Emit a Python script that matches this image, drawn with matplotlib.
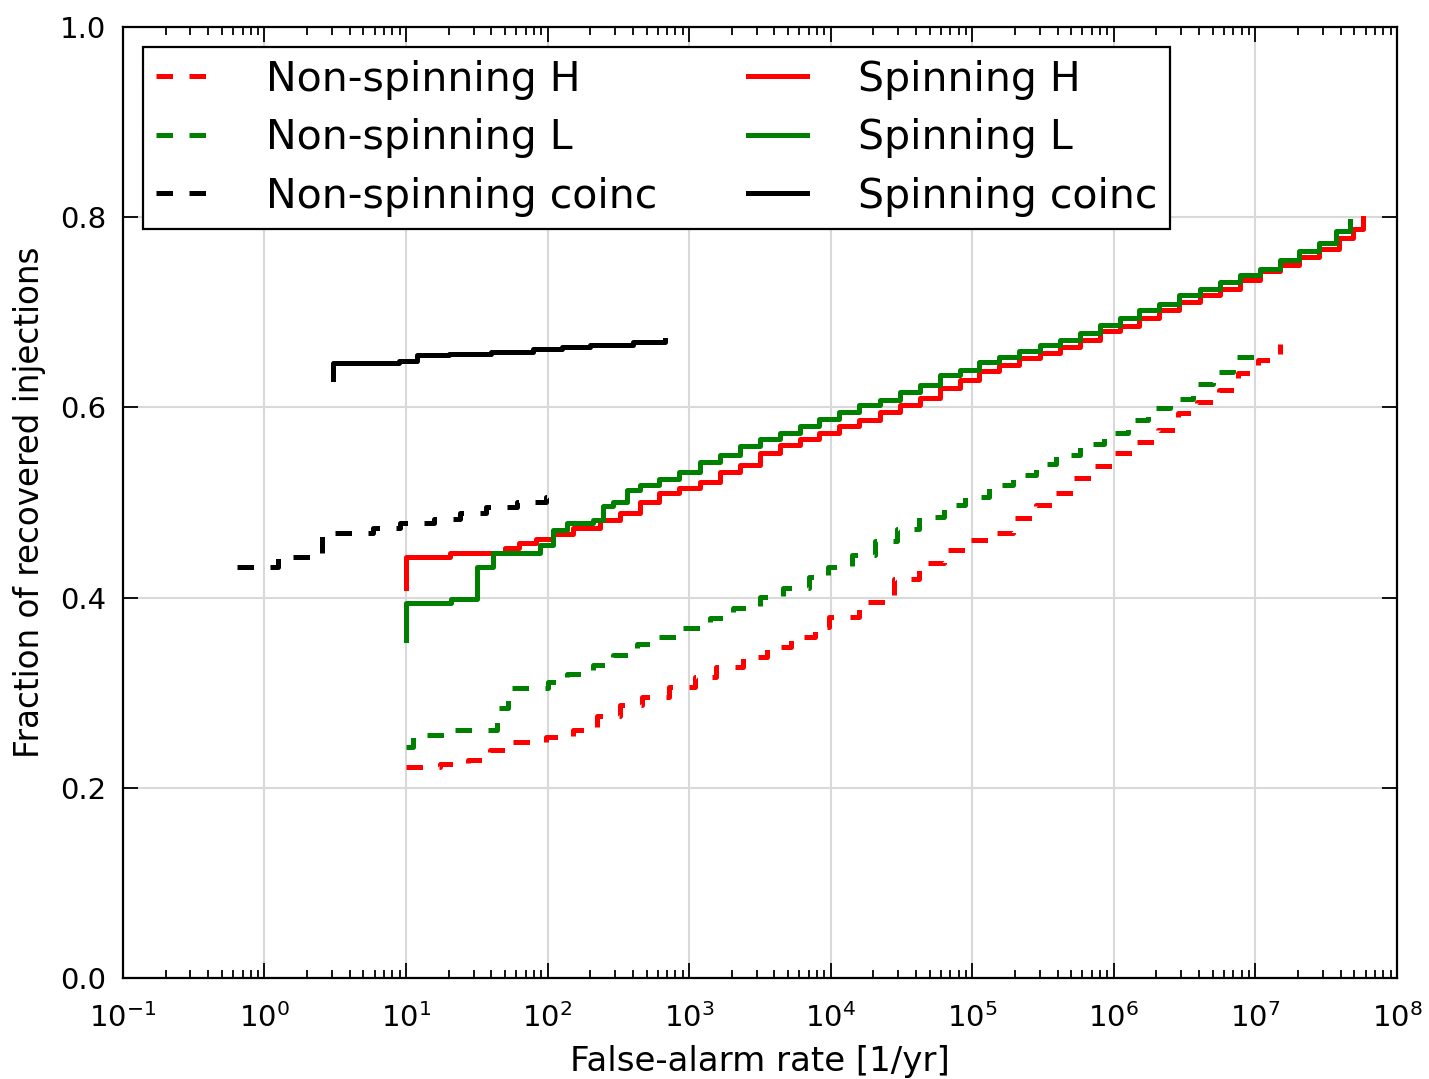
import numpy as np
import matplotlib
matplotlib.use("Agg")
from matplotlib import pyplot as plt
from matplotlib.ticker import FixedLocator, LogLocator, NullFormatter


# cumulative recovered fraction vs. false-alarm rate (steps)
far_spin_h = [10, 10, 20.4, 50, 63, 83, 110, 151, 234, 324,
              447, 617, 851, 1190, 1640, 2280, 3160, 4370, 6030, 8320,
              1.15e4, 1.58e4, 2.24e4, 3.09e4, 4.27e4, 5.89e4, 8.13e4, 1.12e5, 1.55e5, 2.14e5,
              3.02e5, 4.17e5, 5.75e5, 7.94e5, 1.10e6, 1.51e6, 2.09e6, 2.88e6, 4.07e6, 5.62e6,
              7.76e6, 1.07e7, 1.48e7, 2.04e7, 2.82e7, 3.89e7, 4.90e7, 5.75e7]
frac_spin_h = [0.410, 0.443, 0.447, 0.452, 0.457, 0.462, 0.467, 0.473, 0.482, 0.489,
               0.501, 0.510, 0.515, 0.522, 0.532, 0.539, 0.552, 0.560, 0.567, 0.573,
               0.580, 0.587, 0.595, 0.602, 0.610, 0.620, 0.629, 0.638, 0.645, 0.652,
               0.657, 0.664, 0.671, 0.680, 0.686, 0.694, 0.702, 0.711, 0.718, 0.725,
               0.734, 0.743, 0.750, 0.758, 0.767, 0.778, 0.788, 0.799]

far_spin_l = [10, 10, 20.9, 31.6, 41, 88, 110, 138, 209, 245,
              288, 363, 447, 617, 851, 1190, 1640, 2280, 3160, 4370,
              6030, 8320, 1.15e4, 1.58e4, 2.24e4, 3.09e4, 4.27e4, 5.89e4, 8.13e4, 1.12e5,
              1.55e5, 2.14e5, 3.02e5, 4.17e5, 5.75e5, 7.94e5, 1.10e6, 1.51e6, 2.09e6, 2.88e6,
              4.07e6, 5.62e6, 7.76e6, 1.07e7, 1.48e7, 2.04e7, 2.82e7, 3.72e7, 4.68e7]
frac_spin_l = [0.355, 0.394, 0.399, 0.432, 0.447, 0.455, 0.471, 0.478, 0.482, 0.496,
               0.501, 0.513, 0.518, 0.525, 0.532, 0.543, 0.550, 0.559, 0.567, 0.573,
               0.580, 0.588, 0.595, 0.603, 0.608, 0.616, 0.624, 0.634, 0.639, 0.648,
               0.653, 0.659, 0.666, 0.671, 0.678, 0.687, 0.694, 0.702, 0.709, 0.718,
               0.725, 0.732, 0.739, 0.746, 0.755, 0.764, 0.773, 0.785, 0.796]

far_nospin_h = [10, 17.4, 27.5, 38.9, 56.2, 97.7, 151, 224, 324, 468, 724, 1.1e3,
                1.55e3, 2.4e3, 3.55e3, 5.25e3, 7.76e3, 9.77e3, 1.58e4, 2.82e4,
                4.17e4, 6.31e4, 8.91e4, 1.32e5, 1.95e5, 2.82e5, 3.72e5, 5.13e5,
                7.08e5, 1.0e6, 1.41e6, 2.04e6, 2.82e6, 3.89e6, 5.5e6, 7.59e6,
                1.05e7, 1.48e7]
frac_nospin_h = [0.222, 0.225, 0.229, 0.240, 0.248, 0.253, 0.261, 0.275, 0.287, 0.296,
                 0.306, 0.317, 0.327, 0.338, 0.348, 0.359, 0.369, 0.380, 0.395, 0.420,
                 0.436, 0.450, 0.461, 0.468, 0.484, 0.497, 0.510, 0.526, 0.538, 0.552,
                 0.564, 0.576, 0.594, 0.606, 0.618, 0.636, 0.650, 0.667]

far_nospin_l = [10, 11.2, 20.9, 43.7, 52.5, 100, 138, 209, 288, 427, 589, 891, 1.41e3,
                2.04e3, 3.16e3, 4.57e3, 7.08e3, 9.55e3, 1.41e4, 2.04e4, 2.95e4,
                4.17e4, 6.31e4, 8.91e4, 1.32e5, 1.95e5, 2.82e5, 3.89e5, 5.75e5,
                8.51e5, 1.26e6, 1.74e6, 2.51e6, 3.63e6, 5.01e6, 6.92e6, 1.0e7]
frac_nospin_l = [0.243, 0.255, 0.261, 0.284, 0.305, 0.311, 0.320, 0.329, 0.340, 0.351,
                 0.359, 0.368, 0.379, 0.389, 0.401, 0.410, 0.422, 0.432, 0.445, 0.459,
                 0.472, 0.485, 0.497, 0.506, 0.518, 0.529, 0.540, 0.550, 0.562, 0.573,
                 0.587, 0.599, 0.609, 0.625, 0.637, 0.653, 0.669]

far_spin_coinc = [3.04, 3.04, 8.9, 12, 20, 40, 79, 126, 200, 398, 676]
frac_spin_coinc = [0.630, 0.647, 0.649, 0.655, 0.656, 0.658, 0.661, 0.663, 0.666,
                   0.669, 0.671]

far_nospin_coinc = [0.64, 1.25, 2.54, 5.8, 9.0, 15.8, 24, 37, 61, 98, 117]
frac_nospin_coinc = [0.432, 0.443, 0.468, 0.473, 0.478, 0.483, 0.489, 0.495, 0.500,
                     0.506, 0.507]

x_ticks = [1e-1, 1e0, 1e1, 1e2, 1e3, 1e4, 1e5, 1e6, 1e7, 1e8]
y_ticks = [0.0, 0.2, 0.4, 0.6, 0.8, 1.0]

DASH = (0, (3.3, 3.3))
LW = 3.6

plt.rcParams["axes.unicode_minus"] = False

fig = plt.figure(figsize=(14.29, 10.79), dpi=100)
ax = fig.add_axes([0.086, 0.0936, 0.8916, 0.8814])

series = [
    (far_nospin_h, frac_nospin_h, "red", DASH, "Non-spinning H"),
    (far_nospin_l, frac_nospin_l, "green", DASH, "Non-spinning L"),
    (far_nospin_coinc, frac_nospin_coinc, "black", DASH, "Non-spinning coinc"),
    (far_spin_h, frac_spin_h, "red", "-", "Spinning H"),
    (far_spin_l, frac_spin_l, "green", "-", "Spinning L"),
    (far_spin_coinc, frac_spin_coinc, "black", "-", "Spinning coinc"),
]
for x, y, color, ls, label in series:
    ax.step(x, y, where="post", color=color, linestyle=ls, lw=LW, label=label)

ax.set_xscale("log")
ax.set_xlim(x_ticks[0], x_ticks[-1])
ax.set_ylim(0, 1)
ax.set_yticks(y_ticks)
ax.set_yticklabels(["%.1f" % v for v in y_ticks])
ax.xaxis.set_major_locator(FixedLocator(x_ticks))
ax.xaxis.set_minor_locator(LogLocator(base=10, subs=np.arange(2, 10), numticks=20))
ax.xaxis.set_minor_formatter(NullFormatter())

ax.grid(True, which="major", color="#d9d9d9", lw=1.5)
ax.set_axisbelow(True)
ax.tick_params(which="both", direction="in", top=True, right=True,
               labelsize=21, width=1.3, pad=12)
ax.tick_params(axis="x", which="major", pad=18)
ax.tick_params(which="major", length=11)
ax.tick_params(which="minor", length=6)
for sp in ax.spines.values():
    sp.set_linewidth(1.6)

ax.set_xlabel("False-alarm rate [1/yr]", fontsize=24.5, labelpad=9)
ax.set_ylabel("Fraction of recovered injections", fontsize=23.5, labelpad=10)

leg = ax.legend(loc="upper left", ncol=2, fontsize=29.5, fancybox=False,
                edgecolor="black", framealpha=1, handlelength=1.45,
                handletextpad=1.25, columnspacing=2.2, labelspacing=0.45,
                borderpad=0.3, borderaxespad=0.5)
leg.get_frame().set_linewidth(1.6)

fig.savefig("out.png", dpi=100, facecolor="white")
